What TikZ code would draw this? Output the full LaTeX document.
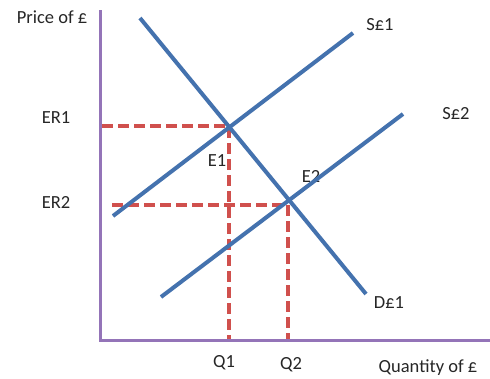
\documentclass[tikz,border=0pt]{standalone}
\usepackage{fontspec}
\setmainfont{Carlito}
\definecolor{curveblue}{HTML}{4472AE}
\definecolor{dashred}{HTML}{D0504D}
\definecolor{axispurple}{HTML}{9474B8}
\begin{document}
\begin{tikzpicture}[x=1pt,y=-1pt,
  lbl/.style={inner sep=0pt,font=\fontsize{18.5}{20}\selectfont,text=black!85},
  curve/.style={draw=curveblue,line width=4pt},
  guide/.style={draw=dashred,line width=3.2pt,dash pattern=on 11pt off 5pt},
  axisline/.style={draw=axispurple,line width=3pt}]
\useasboundingbox (0,0) rectangle (490,378);
% labels
\node[lbl] (py) at (52,17) {Price of £};
\node[lbl] (er1) at (56,118) {ER1};
\node[lbl] (er2) at (56,202) {ER2};
\node[lbl] (e1) at (217,161) {E1};
\node[lbl] (e2) at (311,176) {E2};
\node[lbl] (s1) at (380,25) {S£1};
\node[lbl] (s2) at (456,114) {S£2};
\node[lbl] (d1) at (389,303) {D£1};
\node[lbl] (q1) at (224,363) {Q1};
\node[lbl] (q2) at (291,365) {Q2};
\node[lbl] (qx) at (428,368) {Quantity of £};
% points
\coordinate (ytop) at (100,10);
\coordinate (orig) at (100,340);
\coordinate (xend) at (490,340);
\coordinate (da) at (140,18);
\coordinate (db) at (366,294);
\coordinate (s1a) at (113,216);
\coordinate (s1b) at (353,33);
\coordinate (s2a) at (161,297);
\coordinate (s2b) at (403,114);
\coordinate (pe1) at (229,126);
\coordinate (pe2) at (288,205);
\coordinate (h1) at (102,126);
\coordinate (h2) at (112,205);
\coordinate (v1) at (229,340);
\coordinate (v2) at (288,340);
% guides
\draw[guide] (h1) -- (pe1) -- (v1);
\draw[guide] (h2) -- (pe2) -- (v2);
% axes
\draw[axisline] (ytop) -- (orig) -- (xend);
% curves
\draw[curve] (da) -- (db);
\draw[curve] (s1a) -- (s1b);
\draw[curve] (s2a) -- (s2b);
\end{tikzpicture}
\end{document}
